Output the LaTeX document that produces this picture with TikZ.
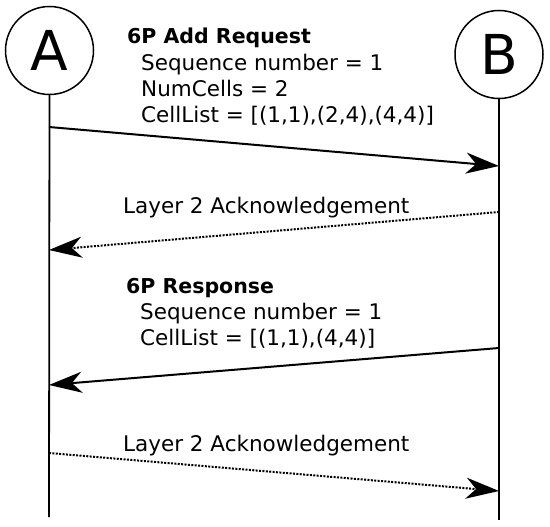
\documentclass[tikz,border=0pt]{standalone}
\usepackage{fontspec}
\setmainfont{DejaVu Sans}
\usetikzlibrary{arrows.meta}
\begin{document}
\begin{tikzpicture}[x=1pt,y=-1pt,
  party/.style={circle,draw,line width=1.5pt,minimum size=88pt,inner sep=0pt,font=\fontsize{55}{60}\selectfont},
  life/.style={line width=1.8pt},
  msg/.style={line width=2pt,-{Stealth[length=33pt,width=21pt,inset=10pt]}},
  ack/.style={msg,dash pattern=on 2pt off 1.4pt},
  txt/.style={anchor=base west,inner sep=0pt,font=\fontsize{21.5}{24}\selectfont},
  hdr/.style={txt,font=\fontsize{20.5}{24}\selectfont\bfseries}]
\useasboundingbox (0,0) rectangle (550,527);
\node[party] (A) at (49.5,50.5) {A};
\node[party] (B) at (499,54.5) {B};
\coordinate (Aend) at (49,517);
\coordinate (Bend) at (499,520);
\draw[life] (A.south) -- (Aend);
\draw[life] (B.south) -- (Bend);
\coordinate (a1) at (49,127);
\coordinate (b1) at (499,166);
\coordinate (b2) at (499,212);
\coordinate (a2) at (49,250);
\coordinate (b3) at (499,348);
\coordinate (a3) at (49,385);
\coordinate (a4) at (49,453);
\coordinate (b4) at (499,491);
\draw[msg] (a1) -- (b1);
\draw[ack] (b2) -- (a2);
\draw[msg] (b3) -- (a3);
\draw[ack] (a4) -- (b4);
\node[hdr] (t1) at (127,44) {6P Add Request};
\node[txt] (t2) at (141,71) {Sequence number = 1};
\node[txt] (t3) at (141,97) {NumCells = 2};
\node[txt] (t4) at (141,123) {CellList = [(1,1),(2,4),(4,4)]};
\node[txt] (t5) at (123,214) {Layer 2 Acknowledgement};
\node[hdr] (t6) at (126,293) {6P Response};
\node[txt] (t7) at (140,319) {Sequence number = 1};
\node[txt] (t8) at (140,345) {CellList = [(1,1),(4,4)]};
\node[txt] (t9) at (123,451) {Layer 2 Acknowledgement};
\end{tikzpicture}
\end{document}
